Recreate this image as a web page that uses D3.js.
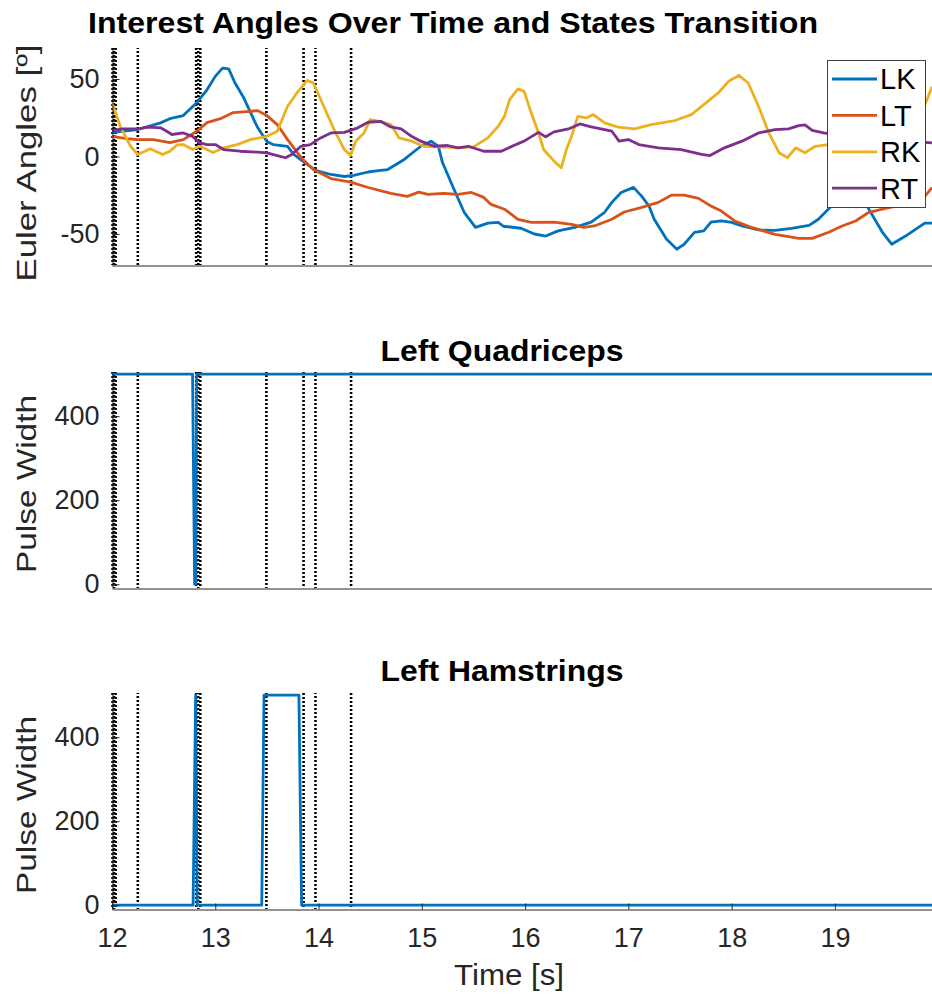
<!DOCTYPE html>
<html>
<head>
<meta charset="utf-8">
<script src="https://cdnjs.cloudflare.com/ajax/libs/d3/7.8.5/d3.min.js"></script>
<style>
  body { margin: 0; background: #fff; }
  svg { display: block; font-family: "Liberation Sans", Arial, sans-serif; }
</style>
</head>
<body>
<div id="chart"></div>
<script>
// state transition instants (s)
const stateTimes = [12.005, 12.02, 12.035, 12.25, 12.815, 12.835, 12.855, 13.495, 13.855, 13.97, 14.315];

const seriesNames = ["LK", "LT", "RK", "RT"];
const seriesColors = ["#0072BD", "#D95319", "#EDB120", "#7E2F8E"];

const lkTime = [12.00, 12.25, 12.47, 12.56, 12.69, 12.82, 12.92, 13.00, 13.07, 13.13, 13.19, 13.27, 13.36, 13.41, 13.50, 13.56, 13.70, 13.76, 13.85, 13.97, 14.12, 14.25, 14.34, 14.48, 14.60, 14.67, 14.83, 14.99, 15.09, 15.16, 15.20, 15.31, 15.41, 15.52, 15.64, 15.74, 15.79, 15.96, 16.09, 16.20, 16.32, 16.48, 16.64, 16.77, 16.84, 16.93, 17.05, 17.13, 17.20, 17.25, 17.37, 17.47, 17.54, 17.64, 17.73, 17.80, 17.90, 18.00, 18.10, 18.26, 18.42, 18.58, 18.75, 18.84, 18.95, 19.08, 19.20, 19.29, 19.46, 19.55, 19.68, 19.78, 19.87, 19.94];
const lkAngle = [15.6, 17.4, 21.7, 24.4, 26.4, 34.7, 43, 51.7, 57, 56.5, 47.6, 38.6, 25.7, 18.7, 9.7, 7.7, 6.5, 1.3, -3.2, -9, -11.6, -12.9, -12.2, -10, -9, -8.4, -1.9, 6.6, 9.9, 6.6, -3.9, -21, -36, -45.7, -43, -42.5, -45, -46.3, -50, -51.3, -48, -45.7, -42.3, -36, -29.6, -23.2, -19.9, -25.7, -32, -40.5, -53.4, -59.8, -56.6, -48.9, -48, -42.3, -41.6, -42.5, -44.8, -47.4, -47.6, -46.3, -44.4, -40.5, -33, -27, -25, -29.6, -48.9, -56.6, -51.5, -47, -43, -43];

const ltTime = [12.00, 12.14, 12.25, 12.40, 12.56, 12.69, 12.82, 12.92, 13.05, 13.17, 13.31, 13.41, 13.50, 13.60, 13.70, 13.83, 13.95, 14.12, 14.31, 14.48, 14.70, 14.86, 14.97, 15.06, 15.21, 15.35, 15.48, 15.60, 15.67, 15.80, 15.93, 16.06, 16.28, 16.45, 16.57, 16.67, 16.84, 16.96, 17.13, 17.29, 17.42, 17.54, 17.68, 17.80, 17.90, 18.03, 18.19, 18.42, 18.65, 18.78, 18.94, 19.07, 19.20, 19.33, 19.46, 19.59, 19.75, 19.88, 19.94];
const ltAngle = [13, 11.6, 10.9, 10.9, 9, 10.9, 16.3, 21.9, 24.4, 28.3, 29, 29.6, 26.4, 20.6, 10.9, -0.6, -8.4, -14.2, -16.5, -20, -23.8, -25.7, -23, -24.5, -23.8, -24.5, -23.2, -26.4, -30.9, -34, -40.5, -42.5, -42.3, -43.8, -45.7, -44.8, -40.5, -35.8, -32.8, -29.6, -24.9, -24.9, -27, -32, -35.2, -41.6, -45.7, -50.2, -52.8, -52.8, -48.9, -44.8, -41.6, -36, -34, -32, -30, -25, -20];

const rkTime = [12.00, 12.08, 12.18, 12.25, 12.37, 12.49, 12.56, 12.63, 12.69, 12.78, 12.85, 12.98, 13.08, 13.21, 13.34, 13.50, 13.60, 13.70, 13.79, 13.89, 13.95, 14.05, 14.15, 14.25, 14.31, 14.36, 14.44, 14.50, 14.60, 14.70, 14.78, 14.90, 15.02, 15.16, 15.35, 15.50, 15.64, 15.74, 15.80, 15.85, 15.93, 15.99, 16.06, 16.13, 16.18, 16.28, 16.35, 16.40, 16.45, 16.51, 16.59, 16.66, 16.77, 16.90, 17.06, 17.22, 17.45, 17.61, 17.73, 17.87, 17.97, 18.07, 18.16, 18.26, 18.36, 18.46, 18.54, 18.62, 18.71, 18.81, 18.93, 19.10, 19.30, 19.50, 19.70, 19.85, 19.90, 19.94];
const rkAngle = [34.7, 19.5, 6.6, 1.3, 5, 1.3, 3.4, 7.5, 7.7, 4.5, 6.6, 2.6, 5.6, 7.7, 10.9, 13, 16.3, 32.4, 41, 49.1, 47.4, 32.4, 17.4, 4.5, 0.6, 9.9, 15.2, 23.8, 22.5, 20.6, 12, 9.9, 6.6, 6.2, 5.6, 6.2, 12, 19.5, 25.9, 36.7, 43.6, 42, 28.1, 15.2, 4.5, -3, -7.3, 4.5, 13, 25.9, 24.9, 27, 21.7, 18.9, 17.8, 20.6, 23.2, 27, 33.5, 41, 48.5, 52.3, 47.4, 32.4, 15.2, 2.4, -0.8, 5.6, 2.4, 6.6, 7.7, 10, 15, 20, 25, 30, 38, 45];

const rtTime = [12.00, 12.10, 12.25, 12.35, 12.47, 12.53, 12.58, 12.69, 12.78, 12.85, 12.92, 13.00, 13.08, 13.24, 13.41, 13.50, 13.60, 13.68, 13.74, 13.83, 13.92, 14.02, 14.12, 14.25, 14.38, 14.48, 14.60, 14.70, 14.80, 14.90, 14.99, 15.12, 15.25, 15.35, 15.45, 15.60, 15.77, 15.89, 15.99, 16.13, 16.20, 16.28, 16.42, 16.53, 16.64, 16.77, 16.84, 16.91, 17.00, 17.10, 17.29, 17.51, 17.71, 17.79, 17.93, 18.10, 18.26, 18.42, 18.55, 18.65, 18.71, 18.78, 18.89, 19.10, 19.40, 19.70, 19.94];
const rtAngle = [16.9, 17.8, 17.8, 18.9, 18.5, 16.3, 14.2, 15.2, 13, 8.8, 7.7, 7.7, 4.5, 3.4, 2.8, 2.4, 0.6, -0.8, 1.3, 6.6, 7.7, 12, 15.2, 15.6, 18.5, 22.1, 22.7, 19.1, 17.8, 13, 9.9, 6.6, 7.1, 5.6, 6.6, 3.4, 3.4, 7.1, 9.9, 15.6, 12.7, 15.9, 17.8, 21, 19.1, 17.4, 16.3, 9.9, 10.9, 7.7, 5.6, 4.5, 1.3, 0.6, 5.6, 9.9, 15.2, 17.4, 17.8, 19.9, 20.4, 16.9, 15.2, 13, 11, 10, 8.8];

const quadTime = [12.00, 12.78, 12.80, 12.81, 12.82, 19.94];
const quadPulse = [500, 500, 0, 0, 500, 500];

const hamTime = [12.00, 12.785, 12.81, 12.825, 13.45, 13.472, 13.81, 13.836, 19.94];
const hamPulse = [0, 0, 500, 0, 0, 500, 500, 0, 0];

const xTicks = [12, 13, 14, 15, 16, 17, 18, 19];
const angleTicks = [-50, 0, 50];
const pulseTicks = [0, 200, 400];

const w = 932, h = 997;
const axisColor = "#262626";

const svg = d3.select("#chart").append("svg")
  .attr("width", w)
  .attr("height", h);

const x = d3.scaleLinear().domain([12, 19.94]).range([112, 932]);

const angleSeries = [
  [lkTime, lkAngle], [ltTime, ltAngle], [rkTime, rkAngle], [rtTime, rtAngle]
].map(([t, v], i) => ({ name: seriesNames[i], color: seriesColors[i], pts: t.map((d, j) => [d, v[j]]) }));

const panels = [
  { id: "angles", top: 48, bottom: 265, domain: [-70, 70], ticks: angleTicks,
    label: "Euler Angles [º]", labelY: 163, labelLen: 237,
    series: angleSeries },
  { id: "quad", top: 372, bottom: 588, domain: [-9, 505], ticks: pulseTicks,
    label: "Pulse Width", labelY: 484, labelLen: 178,
    title: "Left Quadriceps", titleY: 361,
    series: [{ color: "#0072BD", pts: quadTime.map((d, j) => [d, quadPulse[j]]) }] },
  { id: "ham", top: 693, bottom: 909, domain: [-9, 505], ticks: pulseTicks,
    label: "Pulse Width", labelY: 805, labelLen: 178,
    title: "Left Hamstrings", titleY: 681, xAxis: true,
    series: [{ color: "#0072BD", pts: hamTime.map((d, j) => [d, hamPulse[j]]) }] }
];

panels.forEach(p => {
  const y = d3.scaleLinear().domain(p.domain).range([p.bottom, p.top]);
  const g = svg.append("g").attr("class", "panel-" + p.id);

  g.append("clipPath").attr("id", "clip-" + p.id)
    .append("rect")
    .attr("x", 112).attr("y", p.top - 2)
    .attr("width", w - 112).attr("height", p.bottom - p.top + 2);

  // state transition markers
  g.selectAll("line.state")
    .data(stateTimes)
    .enter()
    .append("line")
    .attr("class", "state")
    .attr("x1", d => x(d)).attr("x2", d => x(d))
    .attr("y1", p.top).attr("y2", p.bottom)
    .attr("stroke", "#000")
    .attr("stroke-width", 2.6)
    .attr("stroke-dasharray", "2,2")
    .attr("stroke-dashoffset", (d, i) => i % 2);

  const line = d3.line().x(d => x(d[0])).y(d => y(d[1]));

  g.append("g").attr("clip-path", `url(#clip-${p.id})`)
    .selectAll("path")
    .data(p.series)
    .enter()
    .append("path")
    .attr("d", d => line(d.pts))
    .attr("fill", "none")
    .attr("stroke", d => d.color)
    .attr("stroke-width", 2.8)
    .attr("stroke-linejoin", "round");

  const yAxis = d3.axisLeft(y)
    .tickValues(p.ticks)
    .tickSizeInner(-7)
    .tickSizeOuter(0)
    .tickFormat(d => String(d))
    .tickPadding(13);

  const ya = g.append("g")
    .attr("transform", "translate(112.5,0)")
    .call(yAxis);

  const xAxis = d3.axisBottom(x)
    .tickValues(p.xAxis ? xTicks : [])
    .tickSizeInner(-6)
    .tickSizeOuter(0)
    .tickFormat(d => String(d))
    .tickPadding(18);

  const xa = g.append("g")
    .attr("transform", `translate(0,${p.bottom + 0.5})`)
    .call(xAxis);

  [ya, xa].forEach(a => {
    a.attr("font-family", null).attr("font-size", null);
    a.select(".domain").attr("stroke", axisColor).attr("stroke-width", 1);
    a.selectAll(".tick line").attr("stroke", axisColor);
    a.selectAll(".tick text").attr("fill", axisColor).style("font-size", "27px");
  });

  g.append("text")
    .attr("text-anchor", "middle")
    .attr("transform", `translate(36, ${p.labelY}) rotate(-90)`)
    .attr("textLength", p.labelLen)
    .attr("lengthAdjust", "spacingAndGlyphs")
    .attr("fill", axisColor)
    .style("font-size", "28px")
    .text(p.label);

  if (p.title) {
    g.append("text")
      .attr("x", 502).attr("y", p.titleY)
      .attr("text-anchor", "middle")
      .attr("textLength", 243)
      .attr("lengthAdjust", "spacingAndGlyphs")
      .style("font-size", "29px")
      .style("font-weight", "bold")
      .text(p.title);
  }

  if (p.id === "angles") {
    // legend
    const lg = g.append("g").attr("class", "legend");
    lg.append("rect")
      .attr("x", 827.5).attr("y", 60.5)
      .attr("width", 98).attr("height", 147)
      .attr("fill", "#fff")
      .attr("stroke", "#404040")
      .attr("stroke-width", 1);
    const items = lg.selectAll("g.item")
      .data(p.series)
      .enter()
      .append("g")
      .attr("class", "item")
      .attr("transform", (d, i) => `translate(0, ${79 + i * 36.4})`);
    items.append("line")
      .attr("x1", 832).attr("x2", 877)
      .attr("stroke", d => d.color)
      .attr("stroke-width", 2.8);
    items.append("text")
      .attr("x", 880)
      .attr("dy", "0.36em")
      .style("font-size", "29px")
      .attr("fill", "#000")
      .text(d => d.name);
  }
});

svg.append("text")
  .attr("x", 453).attr("y", 33)
  .attr("text-anchor", "middle")
  .attr("textLength", 730)
  .attr("lengthAdjust", "spacingAndGlyphs")
  .style("font-size", "30px")
  .style("font-weight", "bold")
  .text("Interest Angles Over Time and States Transition");

svg.append("text")
  .attr("x", 509).attr("y", 985)
  .attr("text-anchor", "middle")
  .attr("textLength", 110)
  .attr("lengthAdjust", "spacingAndGlyphs")
  .attr("fill", axisColor)
  .style("font-size", "29px")
  .text("Time [s]");
</script>
</body>
</html>
